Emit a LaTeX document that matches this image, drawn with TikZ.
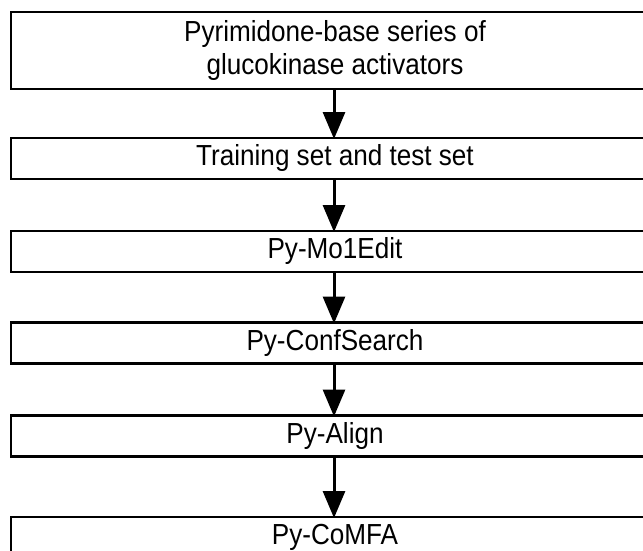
\documentclass[tikz,border=0pt]{standalone}
\usepackage{fontspec}
\setmainfont{Liberation Sans}[FakeStretch=0.9]
\usetikzlibrary{arrows.meta}
\begin{document}
\begin{tikzpicture}[x=1pt,y=-1pt,
  stepbox/.style={draw=black, line width=2.9pt, fill=white, rectangle,
    minimum width=648pt, minimum height=41pt, inner sep=0pt, outer sep=0pt,
    align=center, font=\fontsize{29}{33}\selectfont},
  flowarrow/.style={line width=3pt, -{Triangle[width=22pt,length=27pt]}, shorten >=-1pt}]
\useasboundingbox (0,0) rectangle (643,551);
\clip (0,0) rectangle (643,551);
\node[stepbox, minimum height=77pt] (b1) at (335,50.5) {Pyrimidone-base series of\\glucokinase activators};
\node[stepbox] (b2) at (335,158.5) {Training set and test set};
\node[stepbox] (b3) at (335,251.5) {Py-Mo1Edit};
\node[stepbox] (b4) at (335,343) {Py-ConfSearch};
\node[stepbox] (b5) at (335,436) {Py-Align};
\node[stepbox] (b6) at (335,537.5) {Py-CoMFA};
\draw[flowarrow] (b1.south -| 334,0) -- (b2.north -| 334,0);
\draw[flowarrow] (b2.south -| 334,0) -- (b3.north -| 334,0);
\draw[flowarrow] (b3.south -| 334,0) -- (b4.north -| 334,0);
\draw[flowarrow] (b4.south -| 334,0) -- (b5.north -| 334,0);
\draw[flowarrow] (b5.south -| 334,0) -- (b6.north -| 334,0);
\end{tikzpicture}
\end{document}
